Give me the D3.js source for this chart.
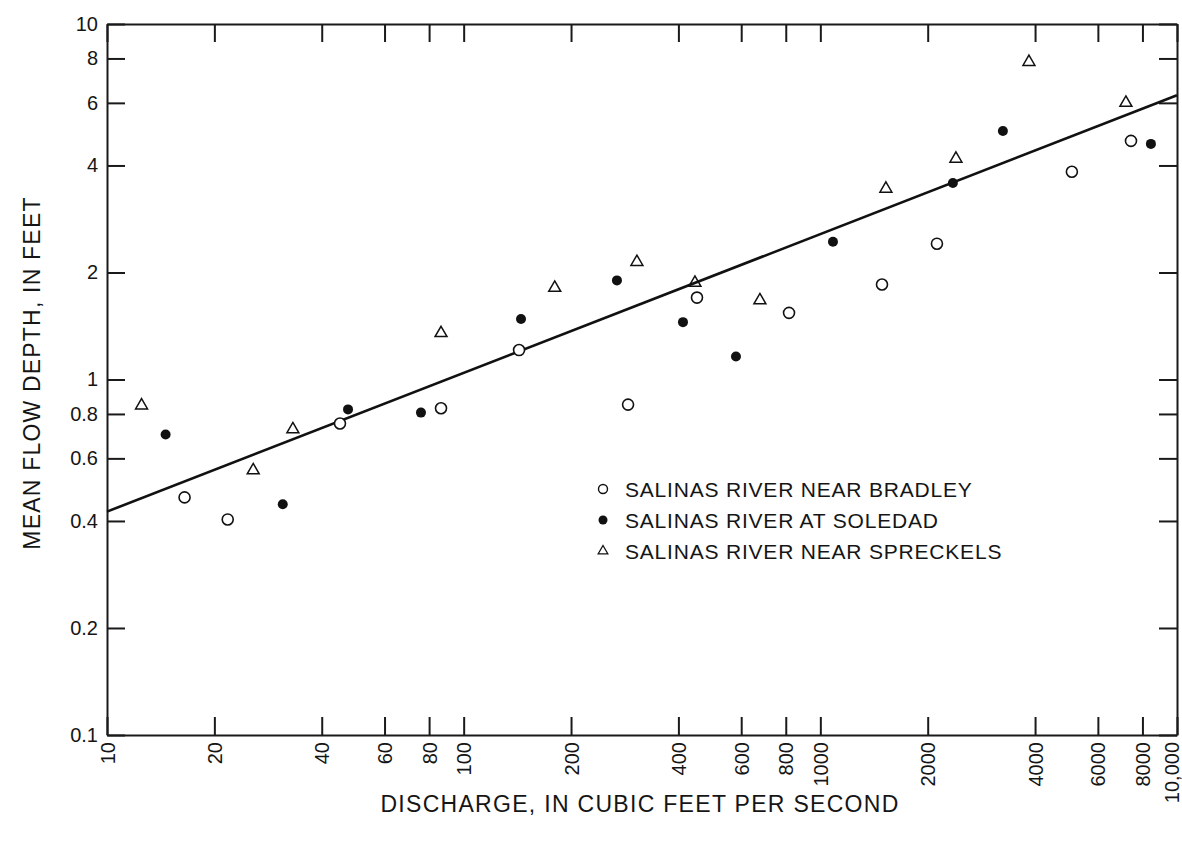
<!DOCTYPE html>
<html>
<head>
<meta charset="utf-8">
<script src="https://cdn.jsdelivr.net/npm/d3@7"></script>
<style>
  body { margin: 0; background: #fff; }
  svg { display: block; }
  text { font-family: "Liberation Sans", Arial, sans-serif; fill: #151515; }
  .axis path, .axis line { stroke: #1a1a1a; stroke-width: 2; }
</style>
</head>
<body>
<div id="chart"></div>
<script>
const width = 1182;
const height = 845;
const margin = { top: 24, left: 107 };

// tick values
const xTicks = [10, 20, 40, 60, 80, 100, 200, 400, 600, 800, 1000, 2000, 4000, 6000, 8000, 10000];
const yTicks = [0.1, 0.2, 0.4, 0.6, 0.8, 1, 2, 4, 6, 8, 10];

// series: [discharge, depth]
const bradley = [
	[16.5, 0.466], [21.8, 0.404], [45, 0.752], [86.4, 0.83], [143, 1.21], [289, 0.85],
	[451, 1.70], [817, 1.54], [1489, 1.85], [2123, 2.41], [5073, 3.84], [7430, 4.69]
];
const soledad = [
	[14.6, 0.70], [31.1, 0.446], [47.4, 0.824], [75.9, 0.807], [144.8, 1.48], [269, 1.90],
	[412, 1.45], [580, 1.16], [1085, 2.44], [2353, 3.57], [3250, 5.0], [8450, 4.60]
];
const spreckels = [
	[12.5, 0.845], [25.7, 0.555], [33.2, 0.724], [86.4, 1.35], [180, 1.81], [306, 2.14],
	[445, 1.87], [677, 1.67], [1527, 3.44], [2400, 4.18], [3845, 7.82], [7190, 6.0]
];
// fitted line end points
const fitLine = [[10, 0.425], [10000, 6.3]];

const legendLabels = [
	"SALINAS RIVER NEAR BRADLEY",
	"SALINAS RIVER AT SOLEDAD",
	"SALINAS RIVER NEAR SPRECKELS"
];

const plotW = 1177 - margin.left;
const plotH = 735 - margin.top;

const svg = d3
	.select("#chart")
	.append("svg")
	.attr("width", width)
	.attr("height", height);

const g = svg.append("g").attr("transform", `translate(${margin.left},${margin.top})`);

const x = d3.scaleLog().domain([10, 10000]).range([0, plotW]);
const y = d3.scaleLog().domain([0.1, 10]).range([plotH, 0]);

const xFmt = (d) => (d === 10000 ? "10,000" : String(d));
const yFmt = (d) => String(d);

// bottom axis, labels rotated
const xAxis = g
	.append("g")
	.attr("class", "axis")
	.attr("transform", `translate(0,${plotH})`)
	.call(d3.axisBottom(x).tickValues(xTicks).tickSizeInner(-18).tickSizeOuter(0).tickFormat(xFmt));

xAxis
	.selectAll("text")
	.attr("font-size", 20)
	.attr("text-anchor", "end")
	.attr("transform", "rotate(-90)")
	.attr("x", -7)
	.attr("y", (d) => (d === 10000 ? -6 : 0))
	.attr("dy", "0.35em");

// top axis
g.append("g")
	.attr("class", "axis")
	.call(d3.axisTop(x).tickValues(xTicks).tickSizeInner(-18).tickSizeOuter(0).tickFormat(""));

// left axis
g.append("g")
	.attr("class", "axis")
	.call(d3.axisLeft(y).tickValues(yTicks).tickSizeInner(-18).tickSizeOuter(0).tickPadding(9).tickFormat(yFmt))
	.selectAll("text")
	.attr("font-size", 20);

// right axis
g.append("g")
	.attr("class", "axis")
	.attr("transform", `translate(${plotW},0)`)
	.call(d3.axisRight(y).tickValues(yTicks).tickSizeInner(-18).tickSizeOuter(0).tickFormat(""));

g.selectAll(".axis text").attr("fill", "#151515").style("font-family", '"Liberation Sans", Arial, sans-serif');

// fit line
g.append("path")
	.datum(fitLine)
	.attr("fill", "none")
	.attr("stroke", "#111")
	.attr("stroke-width", 2.6)
	.attr("d", d3.line().x((d) => x(d[0])).y((d) => y(d[1])));

const tri = d3.symbol().type(d3.symbolTriangle).size(62);

g.selectAll(".bradley")
	.data(bradley)
	.enter()
	.append("circle")
	.attr("cx", (d) => x(d[0]))
	.attr("cy", (d) => y(d[1]))
	.attr("r", 5.5)
	.attr("fill", "#fff")
	.attr("stroke", "#111")
	.attr("stroke-width", 1.6);

g.selectAll(".soledad")
	.data(soledad)
	.enter()
	.append("circle")
	.attr("cx", (d) => x(d[0]))
	.attr("cy", (d) => y(d[1]))
	.attr("r", 5)
	.attr("fill", "#111");

g.selectAll(".spreckels")
	.data(spreckels)
	.enter()
	.append("path")
	.attr("d", tri)
	.attr("transform", (d) => `translate(${x(d[0])},${y(d[1])})`)
	.attr("fill", "none")
	.attr("stroke", "#111")
	.attr("stroke-width", 1.5);

// legend
const legend = svg.append("g").attr("transform", "translate(603,489)");
legendLabels.forEach((label, i) => {
	const row = legend.append("g").attr("transform", `translate(0,${i * 31})`);
	if (i === 0) {
		row.append("circle").attr("r", 4.5).attr("fill", "#fff").attr("stroke", "#111").attr("stroke-width", 1.4);
	} else if (i === 1) {
		row.append("circle").attr("r", 4.5).attr("fill", "#111");
	} else {
		row.append("path").attr("d", d3.symbol().type(d3.symbolTriangle).size(40)).attr("fill", "none").attr("stroke", "#111").attr("stroke-width", 1.3);
	}
	row.append("text")
		.attr("x", 22)
		.attr("dy", "0.36em")
		.attr("font-size", 21)
		.attr("letter-spacing", 0.8)
		.text(label);
});

// axis titles
svg.append("text")
	.attr("transform", "translate(40,373) rotate(-90)")
	.attr("text-anchor", "middle")
	.attr("font-size", 23)
	.attr("letter-spacing", 1.2)
	.text("MEAN FLOW DEPTH, IN FEET");

svg.append("text")
	.attr("x", 640)
	.attr("y", 812)
	.attr("text-anchor", "middle")
	.attr("font-size", 23)
	.attr("letter-spacing", 1.3)
	.text("DISCHARGE, IN CUBIC FEET PER SECOND");
</script>
</body>
</html>
